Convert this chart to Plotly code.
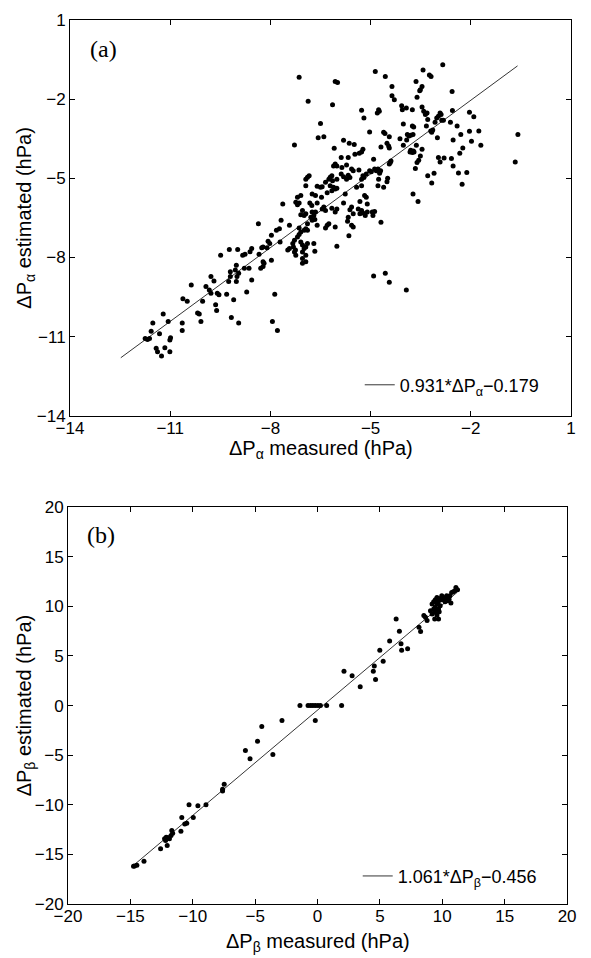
import plotly.graph_objects as go

# ---------------- Panel (a) data: (measured, estimated) in hPa ----------------
a_low = [(-9.49,-7.91),(-9.23,-7.70),(-8.98,-7.70),(-8.83,-7.91),(-8.76,-7.88),(-8.61,-7.78),(-8.56,-7.66),
         (-9.02,-8.29),(-9.05,-8.47),(-9.20,-8.54),(-8.95,-8.60),(-8.78,-8.41),(-8.64,-8.41),
         (-9.00,-8.72),(-9.02,-8.91),(-9.20,-8.72),(-9.25,-8.91),(-8.56,-8.85),
         (-9.78,-8.72),(-9.69,-8.89),(-9.59,-9.35),(-9.54,-9.41),(-9.83,-9.23),(-9.78,-9.35),(-9.93,-9.10),
         (-9.31,-9.39),(-9.10,-9.60),(-9.17,-10.27),(-8.95,-10.48),(-8.71,-9.31),
         (-10.37,-9.04),(-10.62,-9.56),(-10.49,-9.66),(-10.03,-9.66),(-10.18,-10.10),(-10.13,-10.14),
         (-10.08,-10.42),(-9.64,-9.79),(-9.61,-10.01),
         (-11.21,-10.14),(-11.06,-10.42),(-11.52,-10.48),(-11.57,-10.79),(-11.32,-10.89),(-10.64,-10.48),(-10.64,-10.77),
         (-11.75,-11.07),(-11.68,-11.11),(-11.62,-11.07),(-10.99,-11.04),(-11.01,-11.13),(-11.42,-11.44),
         (-11.38,-11.57),(-11.26,-11.73),(-11.16,-11.42),(-11.01,-11.57),
         (-7.94,-10.42),(-7.79,-10.77),(-7.87,-9.39),
         (-8.34,-7.88),(-8.10,-7.63),(-8.19,-8.22),(-8.22,-8.34),(-8.29,-8.41)]

a_mid = [(-6.50,-2.92),(-5.20,-2.71),(-5.03,-3.24),
         (-6.57,-3.46),(-6.40,-3.42),(-7.28,-3.74),(-5.81,-3.56),(-5.64,-3.67),(-5.49,-3.72),(-6.09,-3.86),
         (-5.23,-3.90),(-5.27,-4.00),(-5.34,-4.05),(-5.47,-4.09),(-5.67,-4.21),(-5.88,-4.21),(-4.91,-4.28),
         (-6.06,-4.46),(-6.11,-4.53),(-6.01,-4.53),(-5.86,-4.59),(-5.72,-4.49),(-5.57,-4.65),(-5.52,-4.71),(-5.35,-4.68),
         (-5.03,-4.71),(-4.98,-4.75),(-4.88,-4.65),(-5.13,-4.84),(-5.23,-4.90),(-5.27,-5.03),(-5.20,-4.97),
         (-5.88,-4.84),(-5.81,-4.94),(-5.67,-4.88),(-5.62,-4.97),(-5.72,-5.03),
         (-6.21,-4.96),(-6.16,-4.90),(-6.25,-5.03),(-6.14,-5.09),(-6.01,-5.03),(-6.35,-5.15),
         (-6.89,-4.96),(-6.84,-4.90),(-6.94,-5.03),(-6.94,-5.28),
         (-6.60,-5.30),(-6.50,-5.34),(-6.45,-5.32),
         (-6.21,-5.28),(-6.11,-5.34),(-6.06,-5.40),(-6.16,-5.47),(-6.01,-5.38),
         (-6.30,-5.55),(-6.65,-5.65),(-6.75,-5.59),(-6.47,-5.72),(-5.76,-5.59),(-5.42,-5.34),(-5.27,-5.28),
         (-7.19,-5.72),(-7.09,-5.65),(-7.24,-5.91),(-7.19,-6.00),(-7.14,-5.93),(-7.63,-5.97),
         (-6.82,-5.93),(-6.76,-6.03),(-6.60,-5.93),
         (-6.40,-6.09),(-6.35,-6.22),(-6.45,-6.16),(-6.16,-6.13),(-6.06,-6.28),(-6.01,-6.16),
         (-5.81,-5.93),(-5.57,-6.09),(-5.62,-6.19),(-5.52,-6.34),
         (-5.32,-5.88),(-5.18,-5.65),(-5.13,-5.72),(-5.10,-5.97),
         (-5.27,-6.22),(-5.23,-6.31),(-5.32,-6.34),(-5.16,-6.41),(-4.95,-6.28),(-4.93,-6.41),(-5.10,-6.28),(-5.37,-6.16),
         (-5.67,-6.47),(-5.69,-6.63),(-5.57,-6.78),(-5.52,-6.84),(-4.69,-6.66),(-5.65,-7.18),(-6.01,-7.57),
         (-7.04,-6.22),(-6.94,-6.34),(-6.99,-6.41),(-7.09,-6.38),
         (-6.75,-6.28),(-6.70,-6.41),(-6.65,-6.28),(-6.79,-6.47),(-6.75,-6.59),(-6.67,-6.56),
         (-6.60,-6.78),(-6.30,-6.78),(-6.35,-6.88),(-6.25,-6.72),(-6.06,-6.84),
         (-6.89,-6.72),(-6.94,-6.91),(-6.99,-6.97),(-6.89,-6.97),(-7.14,-6.88),(-7.09,-7.03),(-7.19,-7.22),(-7.14,-7.13),
         (-7.43,-6.78),(-7.68,-6.59),(-7.73,-6.91),(-7.82,-6.97),(-7.97,-7.16),(-8.36,-6.72),
         (-8.07,-7.38),(-8.02,-7.47),(-7.71,-7.41),(-8.22,-7.60),(-8.26,-7.63),
         (-7.97,-8.10),(-8.22,-8.16),
         (-7.28,-7.35),(-7.33,-7.47),(-7.31,-7.60),(-7.25,-7.72),(-7.09,-7.41),(-7.04,-7.53),(-6.99,-7.66),
         (-6.94,-7.60),(-6.89,-7.47),(-7.04,-7.79),(-6.94,-7.91),(-7.28,-7.79),(-7.24,-7.91),(-7.04,-8.04),
         (-6.70,-7.47),(-6.67,-7.76),(-7.48,-7.72),(-7.43,-7.66),(-6.94,-8.16),(-7.04,-8.22),
         (-4.91,-8.70),(-4.56,-8.60),(-4.44,-8.94),(-3.93,-9.23)]

a_high = [(-2.84,-0.70),(-3.43,-0.89),(-3.24,-1.08),(-3.19,-1.14),(-4.86,-0.95),(-4.56,-1.14),(-4.36,-1.52),(-3.64,-1.33),
          (-3.46,-1.52),(-3.51,-1.64),(-3.53,-1.68),(-2.56,-1.71),(-4.36,-1.87),(-4.29,-2.02),(-3.61,-1.93),
          (-4.07,-2.25),(-3.93,-2.33),(-4.05,-2.40),(-3.75,-2.40),(-4.76,-2.40),(-4.80,-2.52),(-4.74,-2.46),
          (-3.46,-2.30),(-3.41,-2.46),(-3.31,-2.52),(-3.36,-2.58),(-2.55,-2.43),
          (-2.97,-2.65),(-2.92,-2.52),(-2.89,-2.58),(-3.02,-2.71),(-2.87,-2.80),(-2.82,-2.80),
          (-2.04,-2.50),(-1.91,-2.67),(-3.29,-2.77),(-2.61,-2.87),(-3.07,-2.87),(-4.02,-2.94),
          (-3.75,-3.02),(-3.71,-3.05),(-3.33,-3.02),(-2.41,-3.02),(-3.14,-3.17),(-3.17,-3.25),(-3.20,-3.21),
          (-4.61,-3.25),(-4.57,-3.30),(-3.90,-3.34),(-3.80,-3.37),(-3.73,-3.34),(-3.85,-3.40),
          (-4.12,-3.50),(-3.92,-3.55),(-4.44,-3.42),(-2.30,-3.34),(-2.04,-3.22),(-1.76,-3.21),(-3.00,-3.46),(-0.59,-3.34),
          (-4.51,-3.67),(-4.46,-3.77),(-4.44,-3.85),(-4.02,-3.75),(-4.69,-3.81),(-3.63,-3.75),(-3.46,-3.90),
          (-3.80,-3.94),(-3.72,-3.96),(-3.75,-4.02),(-3.70,-4.00),(-3.82,-4.00),
          (-2.53,-3.55),(-1.98,-3.59),(-1.70,-3.75),(-2.24,-3.85),(-2.33,-4.05),
          (-3.51,-4.15),(-3.56,-4.31),(-3.61,-4.40),(-2.97,-4.21),(-2.92,-4.38),(-2.80,-4.23),(-2.58,-4.25),
          (-2.53,-4.53),(-3.66,-4.63),
          (-4.39,-4.34),(-4.44,-4.46),(-4.41,-4.40),
          (-4.78,-4.65),(-4.83,-4.71),(-4.73,-4.81),(-4.70,-4.71),
          (-4.76,-5.03),(-4.78,-5.28),(-4.61,-5.34),(-4.51,-5.13),(-4.49,-5.00),
          (-3.29,-4.90),(-3.10,-4.81),(-3.17,-5.18),(-2.37,-4.80),(-2.12,-4.78),(-2.26,-5.22),(-0.67,-4.38),
          (-3.73,-5.59),(-3.58,-5.88),(-4.88,-6.26),
          (-7.14,-1.17),(-6.06,-1.33),(-5.99,-1.37),(-6.87,-2.08),(-6.14,-2.21),(-5.27,-2.42)]

a_fit_slope, a_fit_icpt = 0.931, -0.179
a_fit_x = [-12.48, -0.60]

# ---------------- Panel (b) data ----------------
b_cluster = [(11.09,11.9),(11.22,11.67),(11.01,11.57),(10.88,11.47),(10.75,11.4),(10.61,11.07),(10.48,10.9),
             (10.35,11.07),(10.22,10.73),(10.09,10.9),(10.43,10.57),(10.69,10.33),(9.96,10.67),(9.83,10.8),
             (9.70,10.57),(9.57,10.9),(9.44,10.67),(9.31,10.47),(9.57,10.23),(9.44,9.9),(9.70,9.73),(9.83,10.07),
             (9.18,10.23),(9.31,9.73),(9.05,9.57),(9.39,9.4),(9.57,9.13),(9.39,8.73),(9.70,8.73),(9.18,9.23),
             (8.65,8.9),(8.52,9.07),(8.78,8.57),(9.96,11.07),(10.54,10.73),(10.22,10.47),(9.65,10.4),(9.75,9.47),(9.49,9.67)]
b_pos = [(8.13,7.9),(8.26,7.47),(6.30,8.73),(6.56,7.5),(5.78,6.5),(6.69,6.23),(6.74,5.57),(7.22,5.73),
         (4.99,5.57),(5.26,4.47),(4.55,4.0),(4.47,3.47),(4.65,2.63),(2.77,3.0),(2.12,3.47),(3.42,1.9)]
b_zero = [(-1.41,0.0),(-0.76,0.0),(-0.55,0.0),(-0.37,0.0),(-0.18,0.0),(0.03,0.0),(0.23,0.0),(0.73,0.0),(1.93,0.0)]
b_neg = [(-2.85,-1.5),(-0.18,-1.5),(-4.47,-2.1),(-4.81,-3.6),(-5.78,-4.53),(-5.41,-5.37),(-3.58,-4.93),
         (-7.48,-7.93),(-7.61,-8.43),(-7.61,-8.6),(-8.94,-10.0),(-9.59,-10.1),(-10.30,-10.0),(-9.96,-11.27),
         (-10.88,-11.27),(-10.48,-11.87),(-10.64,-11.93),(-10.95,-12.67),(-11.68,-12.6),(-11.61,-12.87),
         (-11.74,-13.1),(-12.13,-13.27),(-12.26,-13.43),(-12.0,-13.33),(-11.87,-13.43),(-12.18,-13.6),
         (-12.05,-14.1),(-12.58,-14.43),(-13.91,-15.7),(-14.48,-16.1),(-14.67,-16.17),(-14.75,-16.2)]

b_fit_slope, b_fit_icpt = 1.061, -0.456
b_fit_x = [-14.8, 11.2]

a_ticks = [-14, -11, -8, -5, -2, 1]
b_ticks = [-20, -15, -10, -5, 0, 5, 10, 15, 20]

# ------------------------------------------------------------------------------
a_pts = a_low + a_mid + a_high
b_pts = b_cluster + b_pos + b_zero + b_neg

FONT = "Liberation Sans, Arial, sans-serif"
SERIF = "Liberation Serif, Times New Roman, serif"
mk = dict(color="black", size=5, symbol="circle")

fig = go.Figure()
fig.add_trace(go.Scatter(x=[p[0] for p in a_pts], y=[p[1] for p in a_pts], mode="markers",
                         marker=mk, xaxis="x", yaxis="y", showlegend=False))
fig.add_trace(go.Scatter(x=a_fit_x, y=[a_fit_slope * v + a_fit_icpt for v in a_fit_x], mode="lines",
                         line=dict(color="black", width=0.8), xaxis="x", yaxis="y",
                         name="0.931*ΔP<sub>α</sub>−0.179", showlegend=True, legend="legend"))
fig.add_trace(go.Scatter(x=[p[0] for p in b_pts], y=[p[1] for p in b_pts], mode="markers",
                         marker=mk, xaxis="x2", yaxis="y2", showlegend=False))
fig.add_trace(go.Scatter(x=b_fit_x, y=[b_fit_slope * v + b_fit_icpt for v in b_fit_x], mode="lines",
                         line=dict(color="black", width=0.8), xaxis="x2", yaxis="y2",
                         name="1.061*ΔP<sub>β</sub>−0.456", showlegend=True, legend="legend2"))

ax = dict(showline=True, linecolor="black", linewidth=1, mirror="ticks", ticks="inside", ticklen=5,
          tickcolor="black", tickwidth=1, showgrid=False, zeroline=False,
          tickfont=dict(family=FONT, size=17, color="black"))
tfont = dict(family=FONT, size=20, color="black")

fig.update_layout(
    width=591, height=958, margin=dict(l=68, r=11, t=13, b=54),
    plot_bgcolor="white", paper_bgcolor="white",
    xaxis=dict(ax, domain=[0.004, 1.0], anchor="y", range=[-14, 1], tickvals=a_ticks,
               ticklabelstandoff=-3),
    yaxis=dict(ax, domain=[0.5522, 1.0], anchor="x", range=[-14, 1], tickvals=a_ticks),
    xaxis2=dict(ax, domain=[0.0, 0.9922], anchor="y2", range=[-20, 20], tickvals=b_ticks,
                ticklabelstandoff=-3),
    yaxis2=dict(ax, domain=[0.0, 0.4489], anchor="x2", range=[-20, 20], tickvals=b_ticks),
    legend=dict(x=0.58, y=0.587, xanchor="left", yanchor="middle", bgcolor="rgba(0,0,0,0)",
                borderwidth=0, itemwidth=30, font=dict(family=FONT, size=18, color="black")),
    legend2=dict(x=0.576, y=0.0314, xanchor="left", yanchor="middle", bgcolor="rgba(0,0,0,0)",
                 borderwidth=0, itemwidth=30, font=dict(family=FONT, size=18, color="black")),
    annotations=[
        dict(text="(a)", xref="x domain", yref="y domain", x=0.035, y=0.927, xanchor="left",
             yanchor="middle", showarrow=False, font=dict(family=SERIF, size=24, color="black")),
        dict(text="(b)", xref="x2 domain", yref="y2 domain", x=0.035, y=0.93, xanchor="left",
             yanchor="middle", showarrow=False, font=dict(family=SERIF, size=24, color="black")),
        # axis titles
        dict(text="ΔP<sub>α</sub> measured (hPa)", xref="x domain", yref="paper", x=0.5, y=0.514,
             xanchor="center", yanchor="middle", showarrow=False, font=tfont),
        dict(text="ΔP<sub>α</sub> estimated (hPa)", xref="paper", yref="y domain", x=-0.084, y=0.5,
             xanchor="center", yanchor="middle", textangle=-90, showarrow=False, font=tfont),
        dict(text="ΔP<sub>β</sub> measured (hPa)", xref="x2 domain", yref="paper", x=0.5, y=-0.0438,
             xanchor="center", yanchor="middle", showarrow=False, font=tfont),
        dict(text="ΔP<sub>β</sub> estimated (hPa)", xref="paper", yref="y2 domain", x=-0.084, y=0.5,
             xanchor="center", yanchor="middle", textangle=-90, showarrow=False, font=tfont),
    ],
)

fig.write_html("out.html")
